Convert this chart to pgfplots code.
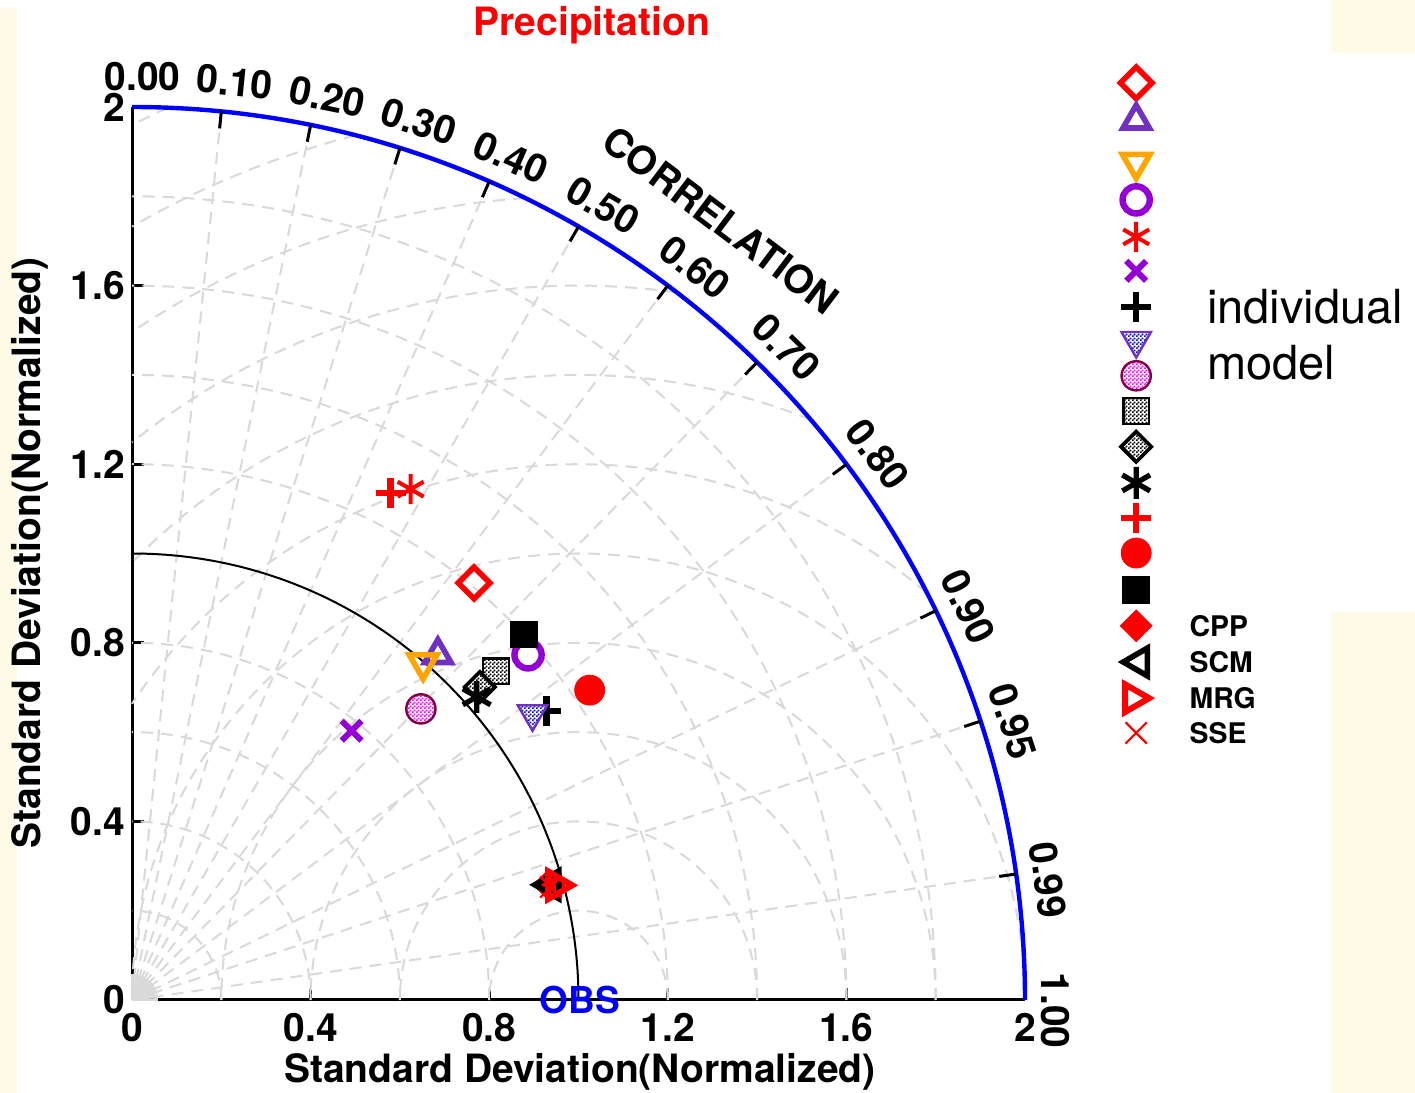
\documentclass[border=0pt]{standalone}
\usepackage{pgfplots}
\pgfplotsset{compat=1.18}
\usepackage{fontspec}
\setmainfont{TeX Gyre Heros}
\usetikzlibrary{patterns}
\definecolor{cream}{HTML}{FFFAE6}
\definecolor{gridgray}{HTML}{D9D9D9}
\definecolor{tripurple}{HTML}{7030C0}
\definecolor{violet2}{HTML}{9400D3}
\definecolor{orange2}{HTML}{FFA500}
\definecolor{maroon2}{HTML}{800040}

\pgfdeclarepatternformonly{finecheck}{\pgfqpoint{0pt}{0pt}}{\pgfqpoint{2pt}{2pt}}{\pgfqpoint{2pt}{2pt}}{%
  \pgfpathrectangle{\pgfqpoint{0pt}{0pt}}{\pgfqpoint{1pt}{1pt}}%
  \pgfpathrectangle{\pgfqpoint{1pt}{1pt}}{\pgfqpoint{1pt}{1pt}}%
  \pgfusepath{fill}}

\newcommand\checkmarkdef[3]{%
  \pgfdeclareplotmark{#1}{%
    \begin{pgfscope}#2\pgfsetfillcolor{white}\pgfusepath{fill}\end{pgfscope}%
    \begin{pgfscope}#2\pgfsetfillpattern{finecheck}{#3}\pgfusepath{fill}\end{pgfscope}%
    #2\pgfusepath{stroke}}}
\checkmarkdef{pcircm}{\pgfpathcircle{\pgfpointorigin}{\pgfplotmarksize}}{magenta}
\checkmarkdef{ptrib}{\pgfpathmoveto{\pgfqpointpolar{-90}{\pgfplotmarksize}}\pgfpathlineto{\pgfqpointpolar{30}{\pgfplotmarksize}}\pgfpathlineto{\pgfqpointpolar{150}{\pgfplotmarksize}}\pgfpathclose}{blue}
\checkmarkdef{psqk}{\pgfpathrectangle{\pgfqpoint{-\pgfplotmarksize}{-\pgfplotmarksize}}{\pgfqpoint{2\pgfplotmarksize}{2\pgfplotmarksize}}}{black}
\checkmarkdef{pdiak}{\pgfpathmoveto{\pgfqpoint{0pt}{\pgfplotmarksize}}\pgfpathlineto{\pgfqpoint{\pgfplotmarksize}{0pt}}\pgfpathlineto{\pgfqpoint{0pt}{-\pgfplotmarksize}}\pgfpathlineto{\pgfqpoint{-\pgfplotmarksize}{0pt}}\pgfpathclose}{black}

\tikzset{gridl/.style={gridgray, line width=1pt, dash pattern=on 6pt off 4pt},
  ctick/.style={black, line width=1.5pt},
  clab/.style={font=\bfseries\fontsize{19.5}{19.5}\selectfont, inner sep=0pt}}

\pgfplotsset{
  s1/.style={only marks, color=red, mark=square, mark size=5.6pt, mark options={rotate=45, line width=2.8pt}},
  s2/.style={only marks, color=tripurple, mark=triangle, mark size=7.6pt, mark options={line width=2.8pt}},
  s3/.style={only marks, color=orange2, mark=triangle, mark size=8pt, mark options={rotate=180, line width=2.8pt}},
  s4/.style={only marks, color=violet2, mark=o, mark size=6.8pt, mark options={line width=3.2pt}},
  s5/.style={only marks, color=red, mark=asterisk, mark size=7.5pt, mark options={line width=2pt}},
  s6/.style={only marks, color=violet2, mark=x, mark size=7pt, mark options={line width=3pt}},
  s7/.style={only marks, color=black, mark=+, mark size=7.5pt, mark options={line width=3.2pt}},
  s8/.style={only marks, color=tripurple, mark=ptrib, mark size=8.5pt, mark options={line width=1.2pt}},
  s9/.style={only marks, color=maroon2, mark=pcircm, mark size=7.3pt, mark options={line width=1.2pt}},
  s10/.style={only marks, color=black, mark=psqk, mark size=6.4pt, mark options={line width=1.2pt}},
  s11/.style={only marks, color=black, mark=pdiak, mark size=7.6pt, mark options={line width=1.8pt}},
  s12/.style={only marks, color=black, mark=asterisk, mark size=8pt, mark options={line width=2.6pt}},
  s13/.style={only marks, color=red, mark=+, mark size=7.5pt, mark options={line width=3.2pt}},
  s14/.style={only marks, color=red, mark=*, mark size=7.5pt},
  s15/.style={only marks, color=black, mark=square*, mark size=6.7pt},
  s16/.style={only marks, color=red, mark=square*, mark size=5.6pt, mark options={rotate=45}},
  s17/.style={only marks, color=black, mark=triangle, mark size=8pt, mark options={rotate=90, line width=2.8pt}},
  s18/.style={only marks, color=red, mark=triangle, mark size=8pt, mark options={rotate=-90, line width=3pt}},
  s19/.style={only marks, color=red, mark=x, mark size=7.5pt, mark options={line width=1.1pt}},
}

\begin{document}
\begin{tikzpicture}
\fill[white] (0,0) rectangle (707.5pt,546.5pt);
\fill[cream] (0,0) rectangle (8.5pt,542.5pt);
\fill[cream] (665.5pt,520pt) rectangle (707.5pt,546.5pt);
\fill[cream] (665.5pt,0) rectangle (707.5pt,240.5pt);
\path[use as bounding box] (0,0) rectangle (707.5pt,546.5pt);
\begin{axis}[
  at={(66pt,46.5pt)}, anchor=south west,
  x=223.25pt, y=223.25pt,
  xmin=0, xmax=2, ymin=0, ymax=2,
  enlargelimits=false,
  clip=false,
  axis lines=left,
  axis line style={-, line width=1.5pt, black},
  tick align=inside,
  major tick length=6pt,
  tick style={line width=1.5pt, black},
  xtick={0,0.4,0.8,1.2,1.6,2},
  ytick={0,0.4,0.8,1.2,1.6,2},
  /pgf/number format/assume math mode=true,
  ticklabel style={font=\bfseries\fontsize{19.5}{19.5}\selectfont},
  xticklabel style={yshift=-3pt},
  xlabel={Standard Deviation(Normalized)},
  ylabel={Standard Deviation(Normalized)},
  label style={font=\bfseries\fontsize{19.5}{19.5}\selectfont},
  xlabel style={at={(axis description cs:0.5015,-0.0805)}, anchor=center},
  ylabel style={at={(axis description cs:-0.114,0.5005)}, anchor=center},
  title={Precipitation},
  every axis title shift=0pt,
  title style={at={(axis description cs:0.515,1.092)}, anchor=center, font=\bfseries\fontsize{19.5}{19.5}\selectfont, text=red},
]
% fan near origin
\pgfplotsinvokeforeach{0,3,...,90}{\draw[gridgray, line width=0.6pt] (axis cs:0,0) -- ++(#1:13pt);}
% std dev arcs
\draw[gridl] (axis cs:0,0) ++(0:44.65pt) arc[start angle=0,end angle=90,radius=44.65pt];
\draw[gridl] (axis cs:0,0) ++(0:89.3pt) arc[start angle=0,end angle=90,radius=89.3pt];
\draw[gridl] (axis cs:0,0) ++(0:133.95pt) arc[start angle=0,end angle=90,radius=133.95pt];
\draw[gridl] (axis cs:0,0) ++(0:178.6pt) arc[start angle=0,end angle=90,radius=178.6pt];
\draw[gridl] (axis cs:0,0) ++(0:267.9pt) arc[start angle=0,end angle=90,radius=267.9pt];
\draw[gridl] (axis cs:0,0) ++(0:312.55pt) arc[start angle=0,end angle=90,radius=312.55pt];
\draw[gridl] (axis cs:0,0) ++(0:357.2pt) arc[start angle=0,end angle=90,radius=357.2pt];
\draw[gridl] (axis cs:0,0) ++(0:401.85pt) arc[start angle=0,end angle=90,radius=401.85pt];
% centred RMS arcs
\draw[gridl] (axis cs:1,0) ++(0:44.65pt) arc[start angle=0,end angle=180,radius=44.65pt];
\draw[gridl] (axis cs:1,0) ++(0:89.3pt) arc[start angle=0,end angle=180,radius=89.3pt];
\draw[gridl] (axis cs:1,0) ++(0:133.95pt) arc[start angle=0,end angle=180,radius=133.95pt];
\draw[gridl] (axis cs:1,0) ++(0:178.6pt) arc[start angle=0,end angle=180,radius=178.6pt];
\draw[gridl] (axis cs:1,0) ++(0:223.25pt) arc[start angle=0,end angle=180,radius=223.25pt];
\draw[gridl] (axis cs:1,0) ++(49.46:267.9pt) arc[start angle=49.46,end angle=146.44,radius=267.9pt];
\draw[gridl] (axis cs:1,0) ++(68.20:312.55pt) arc[start angle=68.20,end angle=135.58,radius=312.55pt];
\draw[gridl] (axis cs:1,0) ++(82.10:357.2pt) arc[start angle=82.10,end angle=128.68,radius=357.2pt];
\draw[gridl] (axis cs:1,0) ++(93.82:401.85pt) arc[start angle=93.82,end angle=123.75,radius=401.85pt];
\draw[gridl] (axis cs:1,0) ++(104.48:446.5pt) arc[start angle=104.48,end angle=120,radius=446.5pt];
\draw[gridl] (axis cs:1,0) ++(114.72:491.15pt) arc[start angle=114.72,end angle=117.04,radius=491.15pt];
% correlation rays
\draw[gridl] (axis cs:0,0) -- ++(84.26:446.5pt);
\draw[gridl] (axis cs:0,0) -- ++(78.46:446.5pt);
\draw[gridl] (axis cs:0,0) -- ++(72.54:446.5pt);
\draw[gridl] (axis cs:0,0) -- ++(66.42:446.5pt);
\draw[gridl] (axis cs:0,0) -- ++(60:446.5pt);
\draw[gridl] (axis cs:0,0) -- ++(53.13:446.5pt);
\draw[gridl] (axis cs:0,0) -- ++(45.57:446.5pt);
\draw[gridl] (axis cs:0,0) -- ++(36.87:446.5pt);
\draw[gridl] (axis cs:0,0) -- ++(25.84:446.5pt);
\draw[gridl] (axis cs:0,0) -- ++(18.19:446.5pt);
\draw[gridl] (axis cs:0,0) -- ++(8.11:446.5pt);
% reference arc and outer arc
\draw[black, line width=1pt] (axis cs:0,1) arc[start angle=90,end angle=0,radius=223.25pt];
\draw[blue, line width=2.2pt] (axis cs:0,2) arc[start angle=90,end angle=0,radius=446.5pt];
% correlation ticks
\draw[ctick] (axis cs:0,0) ++(84.26:438pt) -- ++(84.26:8.5pt);
\draw[ctick] (axis cs:0,0) ++(78.46:438pt) -- ++(78.46:8.5pt);
\draw[ctick] (axis cs:0,0) ++(72.54:438pt) -- ++(72.54:8.5pt);
\draw[ctick] (axis cs:0,0) ++(66.42:438pt) -- ++(66.42:8.5pt);
\draw[ctick] (axis cs:0,0) ++(60:438pt) -- ++(60:8.5pt);
\draw[ctick] (axis cs:0,0) ++(53.13:438pt) -- ++(53.13:8.5pt);
\draw[ctick] (axis cs:0,0) ++(45.57:438pt) -- ++(45.57:8.5pt);
\draw[ctick] (axis cs:0,0) ++(36.87:438pt) -- ++(36.87:8.5pt);
\draw[ctick] (axis cs:0,0) ++(25.84:438pt) -- ++(25.84:8.5pt);
\draw[ctick] (axis cs:0,0) ++(18.19:438pt) -- ++(18.19:8.5pt);
\draw[ctick] (axis cs:0,0) ++(8.11:438pt) -- ++(8.11:8.5pt);
% correlation labels
\path (axis cs:0,0) ++(89.35:462pt) node[clab, rotate=0] {0.00};
\path (axis cs:0,0) ++(83.61:462pt) node[clab, rotate=-5.74] {0.10};
\path (axis cs:0,0) ++(77.81:462pt) node[clab, rotate=-11.54] {0.20};
\path (axis cs:0,0) ++(71.89:462pt) node[clab, rotate=-17.46] {0.30};
\path (axis cs:0,0) ++(65.77:462pt) node[clab, rotate=-23.58] {0.40};
\path (axis cs:0,0) ++(59.35:462pt) node[clab, rotate=-30] {0.50};
\path (axis cs:0,0) ++(52.48:462pt) node[clab, rotate=-36.87] {0.60};
\path (axis cs:0,0) ++(44.92:462pt) node[clab, rotate=-44.43] {0.70};
\path (axis cs:0,0) ++(36.22:462pt) node[clab, rotate=-53.13] {0.80};
\path (axis cs:0,0) ++(25.19:462pt) node[clab, rotate=-64.16] {0.90};
\path (axis cs:0,0) ++(17.54:462pt) node[clab, rotate=-71.81] {0.95};
\path (axis cs:0,0) ++(7.46:462pt) node[clab, rotate=-81.89] {0.99};
\path (axis cs:0,0) ++(-0.65:462pt) node[clab, rotate=-90] {1.00};
\path (axis cs:0,0) ++(52.94:488.7pt) node[font=\bfseries\fontsize{19.5}{19.5}\selectfont, rotate=-37.06] {CORRELATION};
\node[text=blue, font=\bfseries\fontsize{18.5}{18.5}\selectfont, inner sep=0pt] at (axis cs:1.003,0) {OBS};

% model points
\addplot[s1] coordinates {(0.766,0.934)};
\addplot[s2] coordinates {(0.685,0.773)};
\addplot[s3] coordinates {(0.652,0.755)};
\addplot[s4] coordinates {(0.887,0.773)};
\addplot[s5] coordinates {(0.624,1.144)};
\addplot[s6] coordinates {(0.492,0.603)};
\addplot[s7] coordinates {(0.928,0.647)};
\addplot[s8] coordinates {(0.897,0.641)};
\addplot[s9] coordinates {(0.647,0.652)};
\addplot[s10] coordinates {(0.815,0.736)};
\addplot[s11] coordinates {(0.779,0.701)};
\addplot[s12] coordinates {(0.772,0.679)};
\addplot[s13] coordinates {(0.579,1.135)};
\addplot[s14] coordinates {(1.025,0.694)};
\addplot[s15] coordinates {(0.877,0.819)};
\addplot[s16] coordinates {(0.934,0.258)};
\addplot[s17] coordinates {(0.938,0.258)};
\addplot[s18] coordinates {(0.950,0.257)};
\addplot[s19] coordinates {(0.938,0.253)};

% legend keys
\addplot[s1, forget plot] coordinates {(2.249,2.054)};
\addplot[s2, forget plot] coordinates {(2.249,1.970)};
\addplot[s3, forget plot] coordinates {(2.249,1.876)};
\addplot[s4, forget plot] coordinates {(2.249,1.792)};
\addplot[s5, forget plot] coordinates {(2.249,1.709)};
\addplot[s6, forget plot] coordinates {(2.249,1.633)};
\addplot[s7, forget plot] coordinates {(2.249,1.552)};
\addplot[s8, forget plot] coordinates {(2.249,1.477)};
\addplot[s9, forget plot] coordinates {(2.249,1.398)};
\addplot[s10, forget plot] coordinates {(2.249,1.319)};
\addplot[s11, forget plot] coordinates {(2.249,1.239)};
\addplot[s12, forget plot] coordinates {(2.249,1.158)};
\addplot[s13, forget plot] coordinates {(2.249,1.080)};
\addplot[s14, forget plot] coordinates {(2.249,1.001)};
\addplot[s15, forget plot] coordinates {(2.249,0.918)};
\addplot[s16, forget plot] coordinates {(2.249,0.838)};
\addplot[s17, forget plot] coordinates {(2.256,0.757)};
\addplot[s18, forget plot] coordinates {(2.242,0.676)};
\addplot[s19, forget plot] coordinates {(2.249,0.598)};

\node[anchor=west, align=left, font=\fontsize{23.5}{28}\selectfont] at (axis cs:2.392,1.489) {individual\\model};
\node[anchor=west, font=\bfseries\fontsize{14.2}{14.2}\selectfont] at (axis cs:2.353,0.838) {CPP};
\node[anchor=west, font=\bfseries\fontsize{14.2}{14.2}\selectfont] at (axis cs:2.353,0.757) {SCM};
\node[anchor=west, font=\bfseries\fontsize{14.2}{14.2}\selectfont] at (axis cs:2.353,0.676) {MRG};
\node[anchor=west, font=\bfseries\fontsize{14.2}{14.2}\selectfont] at (axis cs:2.353,0.598) {SSE};
\end{axis}
\end{tikzpicture}
\end{document}
